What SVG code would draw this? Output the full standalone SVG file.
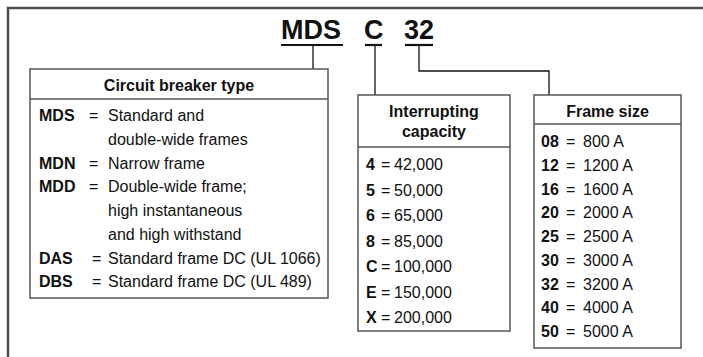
<svg xmlns="http://www.w3.org/2000/svg" width="703" height="357" viewBox="0 0 703 357">
<style>
text{font-family:"Liberation Sans",Arial,sans-serif;fill:#111;font-size:16px}
.b{font-weight:bold}
.h{font-weight:bold;text-anchor:middle}
.t{font-weight:bold;font-size:27px}
.box{fill:#fff;stroke:#555;stroke-width:1.5}
.sep{stroke:#555;stroke-width:1.3}
.con{fill:none;stroke:#111;stroke-width:1.3}
.ul{stroke:#111;stroke-width:2.2}
</style>
<rect width="703" height="357" fill="#fff"/>
<path d="M8,357 V8 H703" fill="none" stroke="#4d4d4d" stroke-width="2.5"/>
<g id="title">
<text class="t" x="281" y="39">MDS</text>
<text class="t" x="364" y="39">C</text>
<text class="t" x="404" y="39">32</text>
<line class="ul" x1="281" y1="45" x2="343" y2="45"/>
<line class="ul" x1="365" y1="45" x2="382" y2="45"/>
<line class="ul" x1="405" y1="45" x2="433" y2="45"/>
</g>
<g id="connectors">
<path class="con" d="M313,45 V69"/>
<path class="con" d="M375,45 V95"/>
<path class="con" d="M419,45 V71 H549 V95"/>
</g>
<g id="breaker-type">
<rect class="box" x="30" y="69" width="298" height="229"/>
<line class="sep" x1="30" y1="99" x2="328" y2="99"/>
<text class="h" x="179" y="91">Circuit breaker type</text>
<text class="b" x="39" y="121">MDS</text><text x="89" y="121">=</text><text x="108" y="121">Standard and</text>
<text x="108" y="144.75">double-wide frames</text>
<text class="b" x="39" y="168.5">MDN</text><text x="89" y="168.5">=</text><text x="108" y="168.5">Narrow frame</text>
<text class="b" x="39" y="192.25">MDD</text><text x="89" y="192.25">=</text><text x="108" y="192.25">Double-wide frame;</text>
<text x="108" y="216">high instantaneous</text>
<text x="108" y="239.75">and high withstand</text>
<text class="b" x="39" y="263.5">DAS</text><text x="92" y="263.5">=</text><text x="108" y="263.5">Standard frame DC (UL 1066)</text>
<text class="b" x="39" y="287.25">DBS</text><text x="92" y="287.25">=</text><text x="108" y="287.25">Standard frame DC (UL 489)</text>
</g>
<g id="interrupting-capacity">
<rect class="box" x="358" y="95" width="152" height="236"/>
<line class="sep" x1="358" y1="147" x2="510" y2="147"/>
<text class="h" x="434" y="117">Interrupting</text>
<text class="h" x="434" y="137">capacity</text>
<text class="b" x="366" y="170">4</text><text x="381" y="170">=</text><text x="394" y="170">42,000</text>
<text class="b" x="366" y="195.5">5</text><text x="381" y="195.5">=</text><text x="394" y="195.5">50,000</text>
<text class="b" x="366" y="221">6</text><text x="381" y="221">=</text><text x="394" y="221">65,000</text>
<text class="b" x="366" y="246.5">8</text><text x="381" y="246.5">=</text><text x="394" y="246.5">85,000</text>
<text class="b" x="366" y="272">C</text><text x="381" y="272">=</text><text x="394" y="272">100,000</text>
<text class="b" x="366" y="297.5">E</text><text x="381" y="297.5">=</text><text x="394" y="297.5">150,000</text>
<text class="b" x="366" y="323">X</text><text x="381" y="323">=</text><text x="394" y="323">200,000</text>
</g>
<g id="frame-size">
<rect class="box" x="534" y="95" width="147" height="253"/>
<line class="sep" x1="534" y1="124" x2="681" y2="124"/>
<text class="h" x="607.5" y="117">Frame size</text>
<text class="b" x="541" y="147">08</text><text x="566" y="147">=</text><text x="583" y="147">800 A</text>
<text class="b" x="541" y="170.75">12</text><text x="566" y="170.75">=</text><text x="583" y="170.75">1200 A</text>
<text class="b" x="541" y="194.5">16</text><text x="566" y="194.5">=</text><text x="583" y="194.5">1600 A</text>
<text class="b" x="541" y="218.25">20</text><text x="566" y="218.25">=</text><text x="583" y="218.25">2000 A</text>
<text class="b" x="541" y="242">25</text><text x="566" y="242">=</text><text x="583" y="242">2500 A</text>
<text class="b" x="541" y="265.75">30</text><text x="566" y="265.75">=</text><text x="583" y="265.75">3000 A</text>
<text class="b" x="541" y="289.5">32</text><text x="566" y="289.5">=</text><text x="583" y="289.5">3200 A</text>
<text class="b" x="541" y="313.25">40</text><text x="566" y="313.25">=</text><text x="583" y="313.25">4000 A</text>
<text class="b" x="541" y="337">50</text><text x="566" y="337">=</text><text x="583" y="337">5000 A</text>
</g>
</svg>
